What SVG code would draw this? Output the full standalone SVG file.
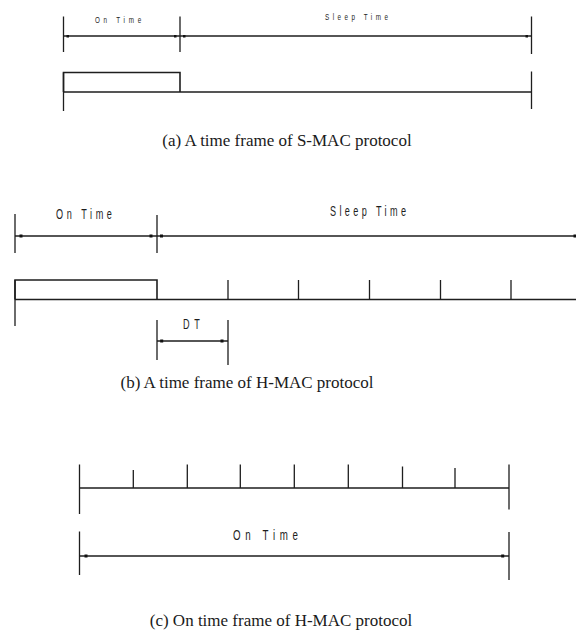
<svg xmlns="http://www.w3.org/2000/svg" width="576" height="642" viewBox="0 0 576 642">
<style>
.ln{stroke:#1e1e1e;stroke-width:1.3;fill:none}
.hl{stroke:#1e1e1e;stroke-width:1.6;fill:none}
.dot{fill:#111}
.lab{font-family:"Liberation Sans",Arial,sans-serif;fill:#1e1e1e}
.cap{font-family:"Liberation Serif","Times New Roman",serif;font-size:17px;fill:#1a1a1a;text-anchor:middle}
</style>
<rect width="576" height="642" fill="#ffffff"/>

<g id="panel-a">
  <path class="ln" d="M63.5,16.5V52 M180,16.5V52 M531.5,16.5V54"/>
  <path class="hl" d="M63.5,36H531.5"/>
  <rect class="dot" x="66.5" y="35" width="2.5" height="2.5"/>
  <rect class="dot" x="174" y="35" width="2.5" height="2.5"/>
  <rect class="dot" x="183" y="35" width="2.5" height="2.5"/>
  <rect class="dot" x="525.5" y="35" width="2.5" height="2.5"/>
  <text class="lab" transform="translate(95,22.5) scale(0.7,1)" font-size="9" textLength="66" lengthAdjust="spacing">On Time</text>
  <text class="lab" transform="translate(325,20) scale(0.7,1)" font-size="9" textLength="90" lengthAdjust="spacing">Sleep Time</text>
  <path class="hl" d="M63.5,92V72.5H180V92 M63.5,92H531.5"/>
  <path class="ln" d="M63.5,72.5V111 M531.5,71.5V109"/>
  <text class="cap" x="287" y="146">(a) A time frame of S-MAC protocol</text>
</g>

<g id="panel-b">
  <path class="ln" d="M15,214V253 M157,215V253"/>
  <path class="hl" d="M15,236H576"/>
  <rect class="dot" x="19.5" y="234.5" width="3" height="3"/>
  <rect class="dot" x="149.5" y="234.5" width="3" height="3"/>
  <rect class="dot" x="160" y="234.5" width="3" height="3"/>
  <rect class="dot" x="573.5" y="234.5" width="3" height="3"/>
  <text class="lab" transform="translate(56,218.5) scale(0.65,1)" font-size="14" textLength="86" lengthAdjust="spacing">On Time</text>
  <text class="lab" transform="translate(330,216) scale(0.65,1)" font-size="14" textLength="117" lengthAdjust="spacing">Sleep Time</text>
  <path class="hl" d="M15,299.5V280H157V299.5 M15,299.5H576"/>
  <path class="ln" d="M15,280V326 M228,280V299.5 M298.5,280V299.5 M369.5,280V299.5 M440.5,280V299.5 M511,280V299.5"/>
  <path class="ln" d="M157,320V360 M228,320V365"/>
  <path class="hl" d="M157,341H228"/>
  <rect class="dot" x="160.2" y="339.5" width="3" height="3"/>
  <rect class="dot" x="220.5" y="339.5" width="3" height="3"/>
  <text class="lab" transform="translate(183,328.5) scale(0.65,1)" font-size="14" textLength="26" lengthAdjust="spacing">DT</text>
  <text class="cap" x="247" y="388">(b) A time frame of H-MAC protocol</text>
</g>

<g id="panel-c">
  <path class="hl" d="M79.5,488H509"/>
  <path class="ln" d="M79.5,464.5V514 M509,464.5V509.5 M133.3,470V488 M187.3,464.5V488 M240.3,464.5V488 M294.3,464.5V488 M348.3,464.5V488 M402.5,466.5V488 M455,468V488"/>
  <path class="ln" d="M79.5,531.5V575 M509,532V580"/>
  <path class="hl" d="M79.5,556H509"/>
  <rect class="dot" x="84.5" y="554.5" width="3" height="3"/>
  <rect class="dot" x="501.2" y="554.5" width="3" height="3"/>
  <text class="lab" transform="translate(233,539.5) scale(0.65,1)" font-size="15" textLength="100" lengthAdjust="spacing">On Time</text>
  <text class="cap" x="281" y="626">(c) On time frame of H-MAC protocol</text>
</g>
</svg>
